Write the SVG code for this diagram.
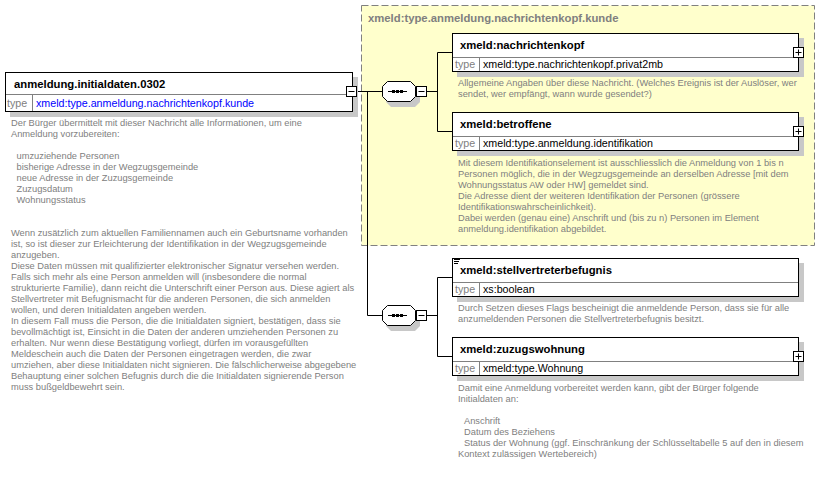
<svg xmlns="http://www.w3.org/2000/svg" width="833" height="486" viewBox="0 0 833 486">
<style>
.box{fill:#fff;stroke:#000;stroke-width:1}
.shadow{fill:#c8c8c8}
.div{stroke:#808080;stroke-width:1}
.title{font-family:"Liberation Sans",Arial,sans-serif;font-weight:bold;font-size:11.3px;fill:#000}
.tlabel{font-family:"Liberation Sans",Arial,sans-serif;font-size:10.7px;fill:#808080}
.tval{font-family:"Liberation Sans",Arial,sans-serif;font-size:10.7px;fill:#000}
.desc{font-family:"Liberation Sans",Arial,sans-serif;font-size:9.3px;fill:#808080}
.line{stroke:#000;stroke-width:1;fill:none}
.btn{fill:#fff;stroke:#000;stroke-width:1}
</style>
<defs>
<g id="plus"><rect class="btn" x="0.5" y="0.5" width="10" height="10"/><path class="line" d="M2.5,5.5H8.5M5.5,2.5V8.5"/></g>
<g id="minus"><rect class="btn" x="0.5" y="0.5" width="10" height="10"/><path class="line" d="M2.5,5.5H8.5"/></g>
<g id="seq">
<path class="shadow" d="M391,86H415L420,91V102L415,107H391L386,102V91Z"/>
<path d="M387.5,81.5H410.5L415.5,86.5V96.5L410.5,101.5H387.5L382.5,96.5V86.5Z" fill="#fff" stroke="#000"/>
<path class="line" d="M388,91.5H407"/>
<rect x="392" y="90" width="3" height="3" fill="#000"/>
<rect x="396" y="90" width="3" height="3" fill="#000"/>
<rect x="400" y="90" width="3" height="3" fill="#000"/>
<use href="#minus" x="416" y="86"/>
</g>
</defs>

<g id="complexType">
<rect x="361.5" y="5.5" width="453" height="240" fill="#ffffcc" stroke="#808080" stroke-dasharray="7,3"/>
<text class="title" x="368" y="22" fill="#808080" style="fill:#808080">xmeld:type.anmeldung.nachrichtenkopf.kunde</text>
</g>

<g id="connectors">
<path class="line" d="M357,91.5H382M367.5,91.5V315.5H382M427,91.5H437.5M437.5,52.5V131.5M437.5,52.5H452M437.5,131.5H452"/>
<path class="line" d="M427,315.5H437.5M437.5,277.5V356.5M437.5,277.5H452M437.5,356.5H452"/>
</g>

<g id="node-anmeldung">
<rect class="shadow" x="10" y="77" width="348" height="40"/>
<rect class="box" x="5.5" y="72.5" width="347" height="39"/>
<path class="div" d="M6,94.5H352M32.5,95V111"/>
<text class="title" x="14" y="88">anmeldung.initialdaten.0302</text>
<text class="tlabel" x="7" y="107">type</text>
<text class="tval" x="36" y="107" style="fill:#0000ff">xmeld:type.anmeldung.nachrichtenkopf.kunde</text>
<use href="#minus" x="346" y="86"/>
<text class="desc">
<tspan x="11" y="126">Der Bürger übermittelt mit dieser Nachricht alle Informationen, um eine</tspan>
<tspan x="11" y="137">Anmeldung vorzubereiten:</tspan>
<tspan x="16.5" y="159">umzuziehende Personen</tspan>
<tspan x="16.5" y="170">bisherige Adresse in der Wegzugsgemeinde</tspan>
<tspan x="16.5" y="181">neue Adresse in der Zuzugsgemeinde</tspan>
<tspan x="16.5" y="192">Zuzugsdatum</tspan>
<tspan x="16.5" y="203">Wohnungsstatus</tspan>
<tspan x="11" y="236">Wenn zusätzlich zum aktuellen Familiennamen auch ein Geburtsname vorhanden</tspan>
<tspan x="11" y="247">ist, so ist dieser zur Erleichterung der Identifikation in der Wegzugsgemeinde</tspan>
<tspan x="11" y="258">anzugeben.</tspan>
<tspan x="11" y="269">Diese Daten müssen mit qualifizierter elektronischer Signatur versehen werden.</tspan>
<tspan x="11" y="280">Falls sich mehr als eine Person anmelden will (insbesondere die normal</tspan>
<tspan x="11" y="291">strukturierte Familie), dann reicht die Unterschrift einer Person aus. Diese agiert als</tspan>
<tspan x="11" y="302">Stellvertreter mit Befugnismacht für die anderen Personen, die sich anmelden</tspan>
<tspan x="11" y="313">wollen, und deren Initialdaten angeben werden.</tspan>
<tspan x="11" y="324">In diesem Fall muss die Person, die die Initialdaten signiert, bestätigen, dass sie</tspan>
<tspan x="11" y="335">bevollmächtigt ist, Einsicht in die Daten der anderen umziehenden Personen zu</tspan>
<tspan x="11" y="346">erhalten. Nur wenn diese Bestätigung vorliegt, dürfen im vorausgefüllten</tspan>
<tspan x="11" y="357">Meldeschein auch die Daten der Personen eingetragen werden, die zwar</tspan>
<tspan x="11" y="368">umziehen, aber diese Initialdaten nicht signieren. Die fälschlicherweise abgegebene</tspan>
<tspan x="11" y="379">Behauptung einer solchen Befugnis durch die die Initialdaten signierende Person</tspan>
<tspan x="11" y="390">muss bußgeldbewehrt sein.</tspan>
</text>
</g>

<g id="seq-1"><use href="#seq"/></g>
<g id="seq-2"><use href="#seq" y="224"/></g>

<g id="node-nachrichtenkopf">
<rect class="shadow" x="457" y="38" width="347" height="39"/>
<rect class="box" x="452.5" y="33.5" width="346" height="38"/>
<path class="div" d="M453,57.5H798M479.5,58V71"/>
<text class="title" x="460" y="49">xmeld:nachrichtenkopf</text>
<text class="tlabel" x="455" y="67.5">type</text>
<text class="tval" x="483" y="67.5">xmeld:type.nachrichtenkopf.privat2mb</text>
<use href="#plus" x="793" y="47"/>
<text class="desc">
<tspan x="458" y="86">Allgemeine Angaben über diese Nachricht. (Welches Ereignis ist der Auslöser, wer</tspan>
<tspan x="458" y="97">sendet, wer empfängt, wann wurde gesendet?)</tspan>
</text>
</g>

<g id="node-betroffene">
<rect class="shadow" x="457" y="117" width="347" height="39"/>
<rect class="box" x="452.5" y="112.5" width="346" height="38"/>
<path class="div" d="M453,136.5H798M479.5,137V150"/>
<text class="title" x="460" y="128">xmeld:betroffene</text>
<text class="tlabel" x="455" y="146.5">type</text>
<text class="tval" x="483" y="146.5">xmeld:type.anmeldung.identifikation</text>
<use href="#plus" x="793" y="126"/>
<text class="desc">
<tspan x="458" y="166">Mit diesem Identifikationselement ist ausschliesslich die Anmeldung von 1 bis n</tspan>
<tspan x="458" y="177">Personen möglich, die in der Wegzugsgemeinde an derselben Adresse [mit dem</tspan>
<tspan x="458" y="188">Wohnungsstatus AW oder HW] gemeldet sind.</tspan>
<tspan x="458" y="199">Die Adresse dient der weiteren Identifikation der Personen (grössere</tspan>
<tspan x="458" y="210">Identifikationswahrscheinlichkeit).</tspan>
<tspan x="458" y="221">Dabei werden (genau eine) Anschrift und (bis zu n) Personen im Element</tspan>
<tspan x="458" y="232">anmeldung.identifikation abgebildet.</tspan>
</text>
</g>

<g id="node-stellvertreterbefugnis">
<rect class="shadow" x="457" y="263" width="347" height="39"/>
<rect class="box" x="452.5" y="258.5" width="346" height="38"/>
<path class="div" d="M453,282.5H798M479.5,283V296"/>
<path class="line" d="M454,259.5H460M454,261.5H459M454,263.5H458"/>
<text class="title" x="460" y="274">xmeld:stellvertreterbefugnis</text>
<text class="tlabel" x="455" y="292.5">type</text>
<text class="tval" x="483" y="292.5">xs:boolean</text>
<text class="desc">
<tspan x="458" y="311">Durch Setzen dieses Flags bescheinigt die anmeldende Person, dass sie für alle</tspan>
<tspan x="458" y="322">anzumeldenden Personen die Stellvertreterbefugnis besitzt.</tspan>
</text>
</g>

<g id="node-zuzugswohnung">
<rect class="shadow" x="457" y="342" width="347" height="39"/>
<rect class="box" x="452.5" y="337.5" width="346" height="38"/>
<path class="div" d="M453,361.5H798M479.5,362V375"/>
<text class="title" x="460" y="353">xmeld:zuzugswohnung</text>
<text class="tlabel" x="455" y="371.5">type</text>
<text class="tval" x="483" y="371.5">xmeld:type.Wohnung</text>
<use href="#plus" x="793" y="351"/>
<text class="desc">
<tspan x="458" y="391">Damit eine Anmeldung vorbereitet werden kann, gibt der Bürger folgende</tspan>
<tspan x="458" y="402">Initialdaten an:</tspan>
<tspan x="464" y="424">Anschrift</tspan>
<tspan x="464" y="435">Datum des Beziehens</tspan>
<tspan x="464" y="446">Status der Wohnung (ggf. Einschränkung der Schlüsseltabelle 5 auf den in diesem</tspan>
<tspan x="458" y="457">Kontext zulässigen Wertebereich)</tspan>
</text>
</g>
</svg>
